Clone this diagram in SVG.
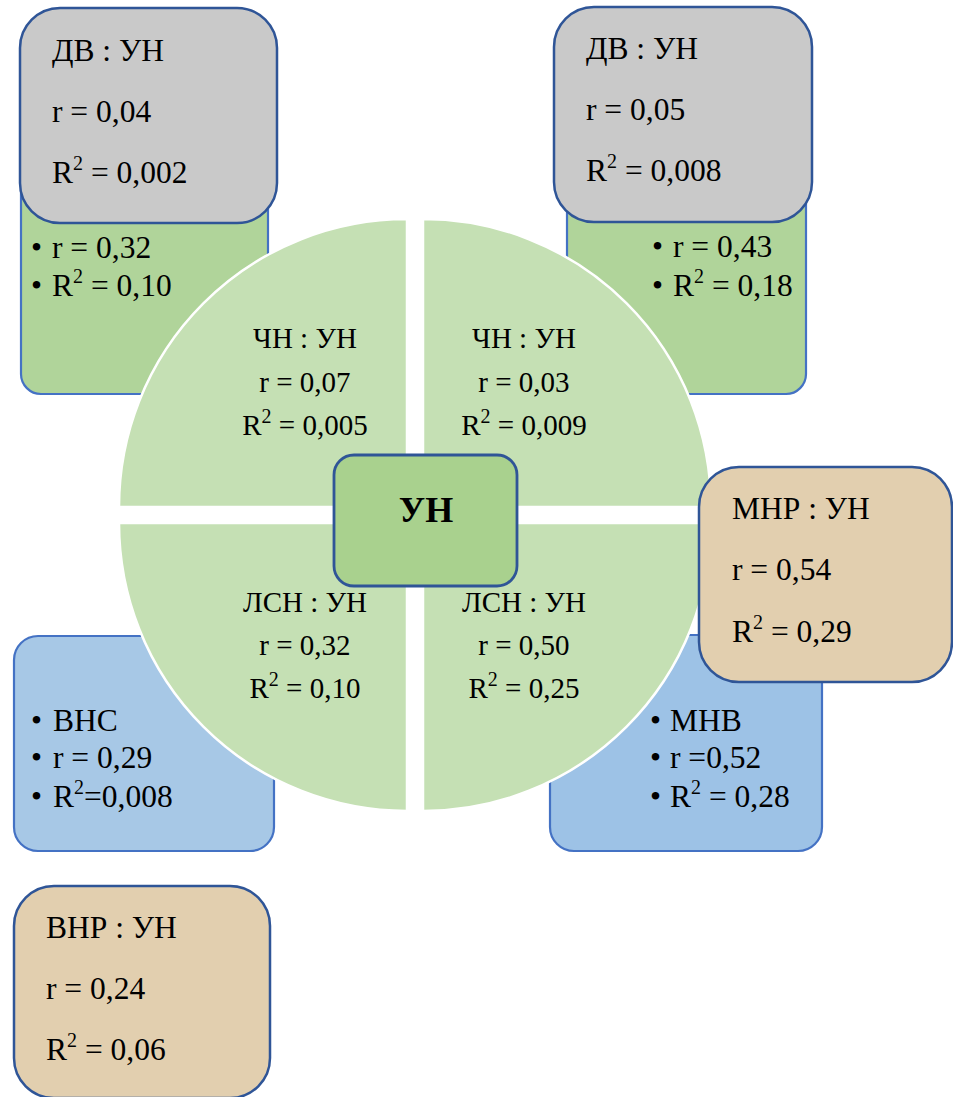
<svg xmlns="http://www.w3.org/2000/svg" width="953" height="1097" viewBox="0 0 953 1097">
<style>
.t{font-family:"Liberation Serif","Times New Roman",serif;font-size:31.5px;fill:#000}
.q{font-family:"Liberation Serif","Times New Roman",serif;font-size:29px;fill:#000;text-anchor:middle}
.sup{font-size:20px}
.green{fill:#B0D49A;stroke:#4472C4;stroke-width:2.2}
.gray{fill:#C9C9C9;stroke:#2F5597;stroke-width:2.5}
.blueL{fill:#A7C8E6;stroke:#4472C4;stroke-width:2.2}
.blueR{fill:#9DC2E6;stroke:#4472C4;stroke-width:2.2}
.tan{fill:#E2CFAF;stroke:#2F5597;stroke-width:2.5}
.quad{fill:#C5E0B4;stroke:#FFFFFF;stroke-width:2.5}
.center{fill:#A9D18E;stroke:#2F5597;stroke-width:2.8}
</style>
<rect width="953" height="1097" fill="#FFFFFF"/>

<g id="green-left">
<rect class="green" x="21" y="170" width="247" height="224" rx="20"/>
<text class="t" x="31" y="258">•</text><text class="t" x="52" y="258">r = 0,32</text>
<text class="t" x="31" y="296">•</text><text class="t" x="52" y="296">R<tspan class="sup" dy="-13">2</tspan><tspan dy="13"> = 0,10</tspan></text>
</g>
<g id="green-right">
<rect class="green" x="567" y="170" width="239" height="224" rx="20"/>
<text class="t" x="652" y="257">•</text><text class="t" x="673" y="257">r = 0,43</text>
<text class="t" x="652" y="296">•</text><text class="t" x="673" y="296">R<tspan class="sup" dy="-13">2</tspan><tspan dy="13"> = 0,18</tspan></text>
</g>

<g id="gray-left">
<rect class="gray" x="20" y="8" width="257" height="215" rx="40"/>
<text class="t" x="52" y="61">ДВ : УН</text>
<text class="t" x="52" y="122">r = 0,04</text>
<text class="t" x="52" y="183">R<tspan class="sup" dy="-13">2</tspan><tspan dy="13"> = 0,002</tspan></text>
</g>
<g id="gray-right">
<rect class="gray" x="554" y="7" width="258" height="215" rx="40"/>
<text class="t" x="586" y="59">ДВ : УН</text>
<text class="t" x="586" y="120">r = 0,05</text>
<text class="t" x="586" y="181">R<tspan class="sup" dy="-13">2</tspan><tspan dy="13"> = 0,008</tspan></text>
</g>

<g id="blue-left">
<rect class="blueL" x="14" y="636" width="260" height="215" rx="24"/>
<text class="t" x="31" y="731">•</text><text class="t" x="53" y="731">ВНС</text>
<text class="t" x="31" y="768">•</text><text class="t" x="53" y="768">r = 0,29</text>
<text class="t" x="31" y="807">•</text><text class="t" x="53" y="807">R<tspan class="sup" dy="-13">2</tspan><tspan dy="13">=0,008</tspan></text>
</g>
<g id="blue-right">
<rect class="blueR" x="550" y="635" width="272" height="216" rx="24"/>
<text class="t" x="650" y="731">•</text><text class="t" x="670" y="731">МНВ</text>
<text class="t" x="650" y="768">•</text><text class="t" x="670" y="768">r =0,52</text>
<text class="t" x="650" y="807">•</text><text class="t" x="670" y="807">R<tspan class="sup" dy="-13">2</tspan><tspan dy="13"> = 0,28</tspan></text>
</g>

<g id="quadrant-tl">
<path class="quad" d="M407,507 L119,507 A288,288 0 0 1 407,219 Z"/>
<text class="q" x="305" y="348">ЧН : УН</text>
<text class="q" x="305" y="392">r = 0,07</text>
<text class="q" x="305" y="435">R<tspan class="sup" dy="-12" font-size="18">2</tspan><tspan dy="12"> = 0,005</tspan></text>
</g>
<g id="quadrant-tr">
<path class="quad" d="M423,507 L423,219 A288,288 0 0 1 711,507 Z"/>
<text class="q" x="524" y="348">ЧН : УН</text>
<text class="q" x="524" y="392">r = 0,03</text>
<text class="q" x="524" y="435">R<tspan class="sup" dy="-12" font-size="18">2</tspan><tspan dy="12"> = 0,009</tspan></text>
</g>
<g id="quadrant-bl">
<path class="quad" d="M407,523 L407,811 A288,288 0 0 1 119,523 Z"/>
<text class="q" x="305" y="612">ЛСН : УН</text>
<text class="q" x="305" y="655">r = 0,32</text>
<text class="q" x="305" y="698">R<tspan class="sup" dy="-12" font-size="18">2</tspan><tspan dy="12"> = 0,10</tspan></text>
</g>
<g id="quadrant-br">
<path class="quad" d="M423,523 L711,523 A288,288 0 0 1 423,811 Z"/>
<text class="q" x="524" y="612">ЛСН : УН</text>
<text class="q" x="524" y="655">r = 0,50</text>
<text class="q" x="524" y="698">R<tspan class="sup" dy="-12" font-size="18">2</tspan><tspan dy="12"> = 0,25</tspan></text>
</g>

<g id="center">
<rect class="center" x="334" y="455" width="183" height="131" rx="20"/>
<text x="426" y="522" text-anchor="middle" font-family="Liberation Serif, Times New Roman, serif" font-size="36" font-weight="bold">УН</text>
</g>

<g id="tan-right">
<rect class="tan" x="699" y="467" width="253" height="215" rx="40"/>
<text class="t" x="732" y="519">МНР : УН</text>
<text class="t" x="732" y="580">r = 0,54</text>
<text class="t" x="732" y="642">R<tspan class="sup" dy="-13">2</tspan><tspan dy="13"> = 0,29</tspan></text>
</g>
<g id="tan-bottom">
<rect class="tan" x="14" y="886" width="256" height="212" rx="40"/>
<text class="t" x="46" y="938">ВНР : УН</text>
<text class="t" x="46" y="999">r = 0,24</text>
<text class="t" x="46" y="1060">R<tspan class="sup" dy="-13">2</tspan><tspan dy="13"> = 0,06</tspan></text>
</g>

<g id="connectors"></g>
</svg>
